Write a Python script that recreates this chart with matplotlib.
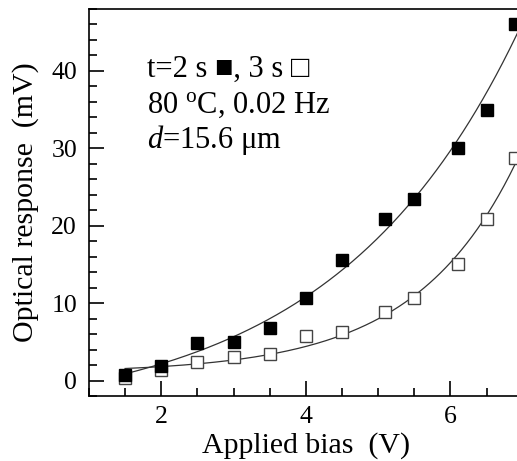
import numpy as np
import matplotlib
matplotlib.use("Agg")
import matplotlib.pyplot as plt
from matplotlib.ticker import MultipleLocator

plt.rcParams['font.family'] = ['Liberation Serif', 'DejaVu Sans']
plt.rcParams['mathtext.fontset'] = 'custom'
plt.rcParams['mathtext.rm'] = 'Liberation Serif'
plt.rcParams['mathtext.it'] = 'Liberation Serif:italic'

# data
bias_2s = [1.5, 2.0, 2.5, 3.0, 3.5, 4.0, 4.5, 5.1, 5.5, 6.1, 6.5, 6.9]
resp_2s = [0.7, 1.9, 4.8, 5.0, 6.8, 10.7, 15.6, 20.9, 23.4, 30.1, 35.0, 46.1]
bias_3s = [1.5, 2.0, 2.5, 3.0, 3.5, 4.0, 4.5, 5.1, 5.5, 6.1, 6.5, 6.9]
resp_3s = [0.3, 1.4, 2.4, 3.0, 3.4, 5.8, 6.3, 8.8, 10.7, 15.1, 20.9, 28.8]


def exp_fit(x, y):
    # y = y0 + A*exp(x/t), grid over t, linear least squares for y0, A
    x = np.asarray(x); y = np.asarray(y)
    best = None
    for t in np.linspace(0.3, 5, 2000):
        M = np.column_stack([np.ones_like(x), np.exp(x / t)])
        c, *_ = np.linalg.lstsq(M, y, rcond=None)
        err = np.sum((M @ c - y) ** 2)
        if best is None or err < best[0]:
            best = (err, t, c)
    _, t, c = best
    return lambda xx: c[0] + c[1] * np.exp(xx / t)


fig = plt.figure(figsize=(5.17, 4.61), dpi=100)
ax = fig.add_axes([0.172, 0.141, 0.839, 0.8395])

xx = np.linspace(1.5, 7.0, 300)
f2 = exp_fit(bias_2s, resp_2s)
f3 = exp_fit(bias_3s, resp_3s)
ax.plot(xx, f3(xx), color='#333333', lw=0.9)
ax.plot(xx, f2(xx), color='#333333', lw=0.9)

ax.plot(bias_3s, resp_3s, 's', ms=8.8, mfc='white', mec='#444444', mew=1.0, ls='none')
ax.plot(bias_2s, resp_2s, 's', ms=8.8, mfc='black', mec='black', ls='none')

ax.set_xlim(1, 7)
ax.set_ylim(-2, 48)
ax.xaxis.set_major_locator(MultipleLocator(2))
ax.xaxis.set_minor_locator(MultipleLocator(0.5))
ax.yaxis.set_major_locator(MultipleLocator(10))
ax.yaxis.set_minor_locator(MultipleLocator(2))
ax.tick_params(which='both', direction='in', width=1.2, labelsize=18.5)
ax.tick_params(which='major', length=11)
ax.tick_params(which='minor', length=5.5)
ax.tick_params(axis='x', pad=7)
ax.tick_params(axis='y', pad=8.5)
for s in ax.spines.values():
    s.set_linewidth(1.2)

ax.set_xlabel('Applied bias  (V)', fontsize=21.5, labelpad=3)
ax.set_ylabel('Optical response  (mV)', fontsize=21.5, labelpad=9)

tx = 0.134
ax.text(tx, 0.824, 't=2 s \u25A0, 3 s \u25A1', transform=ax.transAxes, fontsize=22, va='baseline')
ax.text(tx, 0.731, '80 $^{\\rm o}$C, 0.02 Hz', transform=ax.transAxes, fontsize=22, va='baseline')
ax.text(tx, 0.641, '$d$=15.6 \u03bcm', transform=ax.transAxes, fontsize=22, va='baseline')

fig.savefig('out.png', dpi=100)
